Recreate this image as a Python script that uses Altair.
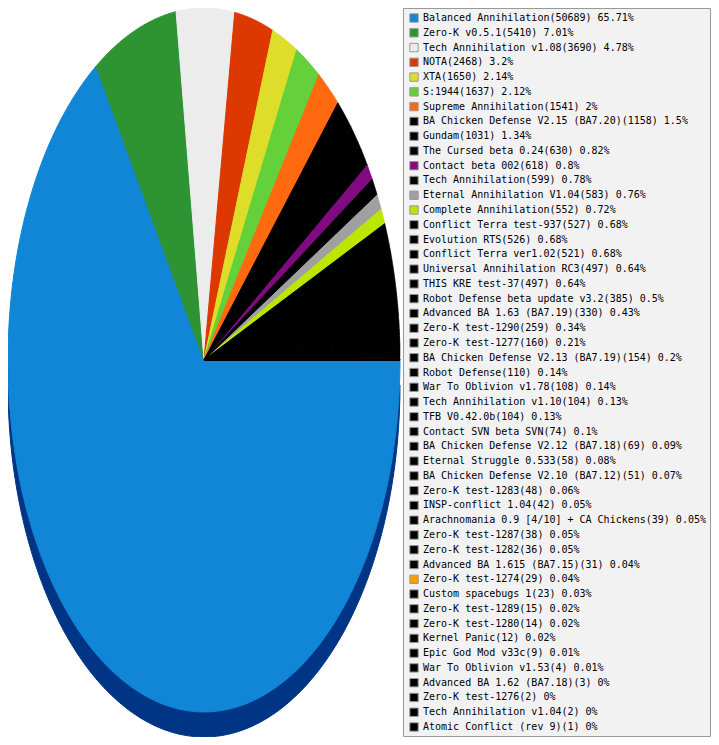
import altair as alt
import pandas as pd

names = [
    "Balanced Annihilation", "Zero-K v0.5.1", "Tech Annihilation v1.08", "NOTA", "XTA",
    "S:1944", "Supreme Annihilation", "BA Chicken Defense V2.15 (BA7.20)", "Gundam",
    "The Cursed beta 0.24", "Contact beta 002", "Tech Annihilation", "Eternal Annihilation V1.04",
    "Complete Annihilation", "Conflict Terra test-937", "Evolution RTS", "Conflict Terra ver1.02",
    "Universal Annihilation RC3", "THIS KRE test-37", "Robot Defense beta update v3.2",
    "Advanced BA 1.63 (BA7.19)", "Zero-K test-1290", "Zero-K test-1277",
    "BA Chicken Defense V2.13 (BA7.19)", "Robot Defense", "War To Oblivion v1.78",
    "Tech Annihilation v1.10", "TFB V0.42.0b", "Contact SVN beta SVN",
    "BA Chicken Defense V2.12 (BA7.18)", "Eternal Struggle 0.533", "BA Chicken Defense V2.10 (BA7.12)",
    "Zero-K test-1283", "INSP-conflict 1.04", "Arachnomania 0.9 [4/10] + CA Chickens",
    "Zero-K test-1287", "Zero-K test-1282", "Advanced BA 1.615 (BA7.15)", "Zero-K test-1274",
    "Custom spacebugs 1", "Zero-K test-1289", "Zero-K test-1280", "Kernel Panic",
    "Epic God Mod v33c", "War To Oblivion v1.53", "Advanced BA 1.62 (BA7.18)",
    "Zero-K test-1276", "Tech Annihilation v1.04", "Atomic Conflict (rev 9)",
]
counts = [
    50689, 5410, 3690, 2468, 1650, 1637, 1541, 1158, 1031, 630, 618, 599, 583, 552, 527,
    526, 521, 497, 497, 385, 330, 259, 160, 154, 110, 108, 104, 104, 74, 69, 58, 51, 48,
    42, 39, 38, 36, 31, 29, 23, 15, 14, 12, 9, 4, 3, 2, 2, 1,
]
pcts = [
    "65.71", "7.01", "4.78", "3.2", "2.14", "2.12", "2", "1.5", "1.34", "0.82", "0.8",
    "0.78", "0.76", "0.72", "0.68", "0.68", "0.68", "0.64", "0.64", "0.5", "0.43", "0.34",
    "0.21", "0.2", "0.14", "0.14", "0.13", "0.13", "0.1", "0.09", "0.08", "0.07", "0.06",
    "0.05", "0.05", "0.05", "0.05", "0.04", "0.04", "0.03", "0.02", "0.02", "0.02", "0.01",
    "0.01", "0", "0", "0", "0",
]
colors = [
    "#1185d6", "#2e9333", "#ececec", "#dc3800", "#dede2a", "#64d03a", "#ff6a10",
    "#000000", "#000000", "#000000", "#800a80", "#000000", "#a0a0a0", "#bbe600",
] + ["#000000"] * 24 + ["#f5a000"] + ["#000000"] * 10

labels = [f"{n}({c}) {p}%" for n, c, p in zip(names, counts, pcts)]
df = pd.DataFrame({"idx": list(range(len(names))), "label": labels, "value": counts})
# z-order of the wedges: coloured slices first, black ones on top
is_black = pd.Series([c == "#000000" for c in colors])
df_draw = df.assign(black=is_black).sort_values(["black", "idx"], kind="stable").drop(columns="black")

SHADOW = 25 / 352  # depth of the 3D edge, in radius units
color_scale = alt.Scale(domain=labels, range=colors)

def pie_base(data):
    return alt.Chart(data).transform_window(
        cum="sum(value)", frame=[None, 0], sort=[alt.SortField("idx")]
    ).transform_joinaggregate(
        total="sum(value)"
    ).transform_calculate(
        a0="2*PI*(datum.cum - datum.value)/datum.total",
        a1="2*PI*datum.cum/datum.total",
        k="sequence(-1, 102)",
    ).transform_flatten(["k"]).transform_calculate(
        ang="datum.a0 + (clamp(datum.k, 0, 100)/100)*(datum.a1 - datum.a0)",
        px="(datum.k < 0 || datum.k > 100) ? 0 : cos(datum.ang)",
        py="(datum.k < 0 || datum.k > 100) ? 0 : sin(datum.ang)",
        pys="datum.py + " + str(SHADOW),
    )

xs = alt.Scale(domain=[-1, 1], range=[0, 392])
ys = alt.Scale(domain=[-1, 1 + SHADOW], range=[0, 729])

shadow = pie_base(df).transform_filter("datum.idx == 0").mark_line(
    filled=True, color="#003585", stroke="#003585", strokeWidth=1
).encode(
    x=alt.X("px:Q", scale=xs, axis=None),
    y=alt.Y("pys:Q", scale=ys, axis=None),
    order=alt.Order("k:Q"),
    detail="label:N",
)

wedges = pie_base(df_draw).mark_line(filled=True, strokeWidth=1).encode(
    x=alt.X("px:Q", scale=xs, axis=None),
    y=alt.Y("py:Q", scale=ys, axis=None),
    color=alt.Color("label:N", scale=color_scale, legend=None),
    stroke=alt.Stroke("label:N", scale=color_scale, legend=None),
    order=alt.Order("k:Q"),
)

box = alt.Chart(alt.Data(values=[{"b": 1}])).mark_rect(
    fill="#f2f2f2", stroke="#999999", strokeWidth=1
).encode(
    x=alt.value(395.5), x2=alt.value(702.5), y=alt.value(0.5), y2=alt.value(728.5)
)

rows = alt.Scale(domain=[0, len(names) - 1], range=[10, 719])

squares = alt.Chart(df).mark_square(
    size=70, opacity=1, stroke="#999999", strokeWidth=1
).encode(
    x=alt.value(406),
    y=alt.Y("idx:Q", scale=rows, axis=None),
    color=alt.Color("label:N", scale=color_scale, legend=None),
)

texts = alt.Chart(df).mark_text(
    align="left", baseline="middle", font="DejaVu Sans Mono", fontSize=10, color="#000000"
).encode(
    x=alt.value(415),
    y=alt.Y("idx:Q", scale=rows, axis=None),
    text="label:N",
)

chart = alt.layer(shadow, wedges, box, squares, texts).resolve_scale(
    x="independent", y="independent"
).properties(
    width=703, height=729, autosize=alt.AutoSizeParams(type="none"), padding=0
).configure_view(stroke=None)

chart.save("out.html", embed_options={"renderer": "svg", "actions": False})
